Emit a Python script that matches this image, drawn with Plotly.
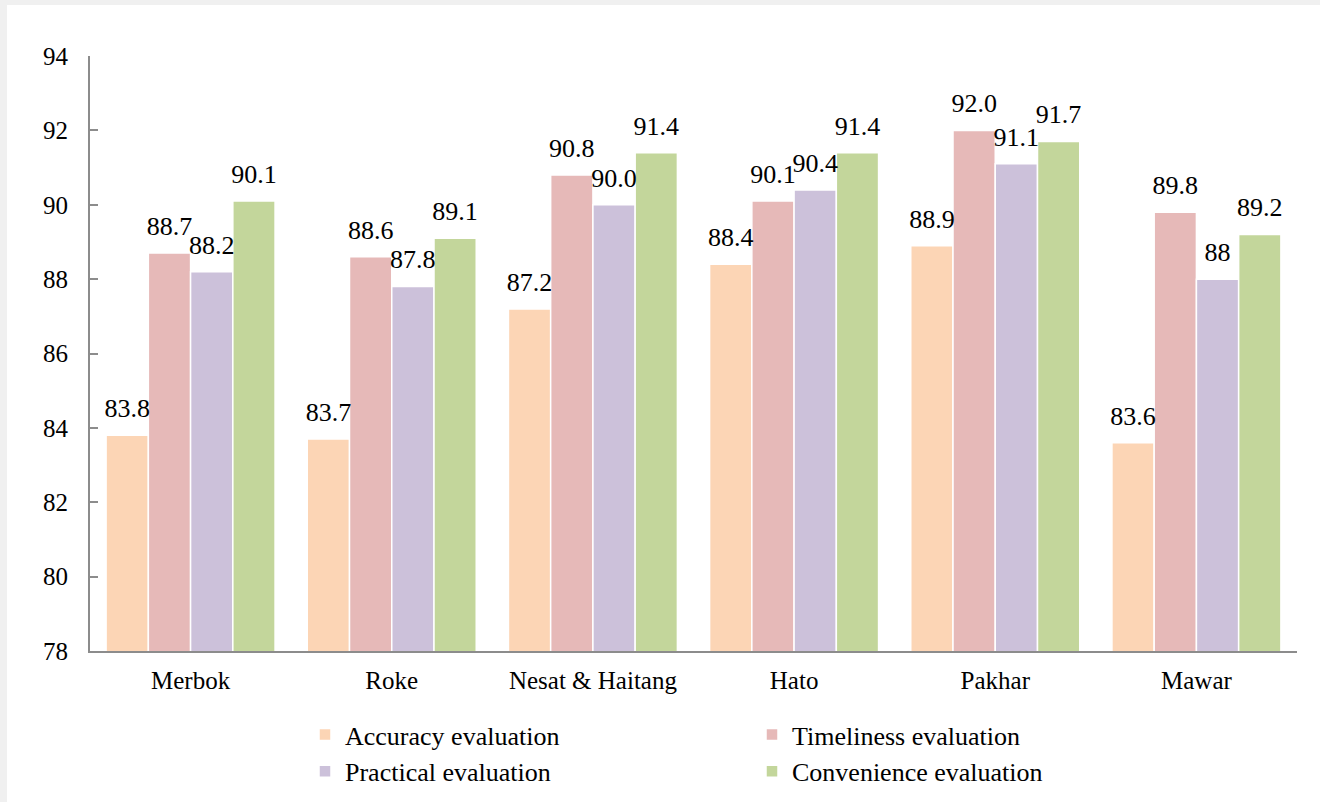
import plotly.graph_objects as go

categories = ["Merbok", "Roke", "Nesat & Haitang", "Hato", "Pakhar", "Mawar"]
accuracy = [83.8, 83.7, 87.2, 88.4, 88.9, 83.6]
timeliness = [88.7, 88.6, 90.8, 90.1, 92.0, 89.8]
practical = [88.2, 87.8, 90.0, 90.4, 91.1, 88]
convenience = [90.1, 89.1, 91.4, 91.4, 91.7, 89.2]
accuracy_labels = ["83.8", "83.7", "87.2", "88.4", "88.9", "83.6"]
timeliness_labels = ["88.7", "88.6", "90.8", "90.1", "92.0", "89.8"]
practical_labels = ["88.2", "87.8", "90.0", "90.4", "91.1", "88"]
convenience_labels = ["90.1", "89.1", "91.4", "91.4", "91.7", "89.2"]
y_ticks = [78, 80, 82, 84, 86, 88, 90, 92, 94]

series = [
    ("Accuracy evaluation", accuracy, accuracy_labels, "#FCD5B5", "legend"),
    ("Timeliness evaluation", timeliness, timeliness_labels, "#E6B9B8", "legend2"),
    ("Practical evaluation", practical, practical_labels, "#CCC1DA", "legend"),
    ("Convenience evaluation", convenience, convenience_labels, "#C3D69B", "legend2"),
]

FONT = "Liberation Serif"
GAP = 0.16

fig = go.Figure()
for name, vals, labels, color, lg in series:
    fig.add_trace(go.Bar(
        name=name, x=categories, y=vals,
        marker=dict(color=color, line=dict(color="#ffffff", width=1.5)),
        legend=lg, offsetgroup=name,
    ))
# value labels, grouped like the bars, lifted a little above each bar top
for name, vals, labels, color, lg in series:
    fig.add_trace(go.Scatter(
        x=categories, y=vals, text=labels, mode="markers+text",
        textposition="top center", cliponaxis=False,
        marker=dict(size=17, opacity=0, color=color),
        textfont=dict(family=FONT, size=26, color="#000000"),
        showlegend=False, hoverinfo="skip", offsetgroup=name,
    ))

W, H = 1320, 802
ml, mr, mt, mb = 90, 23, 56, 151
pw = W - ml - mr
ph = H - mt - mb

# white card over light gray page edge (left and top)
fig.add_shape(type="rect", xref="paper", yref="paper",
              x0=(7 - ml) / pw, x1=(W + 10 - ml) / pw,
              y0=-(mb + 10) / ph, y1=(ph + mt - 5) / ph,
              fillcolor="#ffffff", line=dict(width=0), layer="below")

fig.update_layout(
    width=W, height=H,
    margin=dict(l=ml, r=mr, t=mt, b=mb, autoexpand=False),
    paper_bgcolor="#f0f0f0", plot_bgcolor="rgba(0,0,0,0)",
    barmode="group", bargap=GAP, bargroupgap=0,
    scattermode="group", scattergap=GAP,
    font=dict(family=FONT, size=24, color="#000000"),
    xaxis=dict(showline=True, linecolor="#8c8c8c", linewidth=2,
               ticks="", showgrid=False,
               tickfont=dict(family=FONT, size=25, color="#000000"),
               ticklabelstandoff=6),
    yaxis=dict(range=[78, 94], tickvals=y_ticks, showline=True, linecolor="#8c8c8c",
               linewidth=2, ticks="inside", ticklen=8, tickcolor="#8c8c8c", tickwidth=1.5,
               showgrid=False, zeroline=False,
               tickfont=dict(family=FONT, size=25, color="#000000"),
               ticklabelstandoff=15),
    legend=dict(xref="container", yref="container", x=305 / W, xanchor="left",
                y=1 - 711 / H, yanchor="top",
                bgcolor="rgba(0,0,0,0)", font=dict(size=26, family=FONT, color="#000000"),
                itemwidth=30, tracegroupgap=0, orientation="v"),
    legend2=dict(xref="container", yref="container", x=752 / W, xanchor="left",
                 y=1 - 711 / H, yanchor="top",
                 bgcolor="rgba(0,0,0,0)", font=dict(size=26, family=FONT, color="#000000"),
                 itemwidth=30, tracegroupgap=0, orientation="v"),
    showlegend=True,
)

fig.write_html("out.html", config={"displayModeBar": False},
               post_script="document.body.style.margin='0';document.body.style.background='#ffffff';")
